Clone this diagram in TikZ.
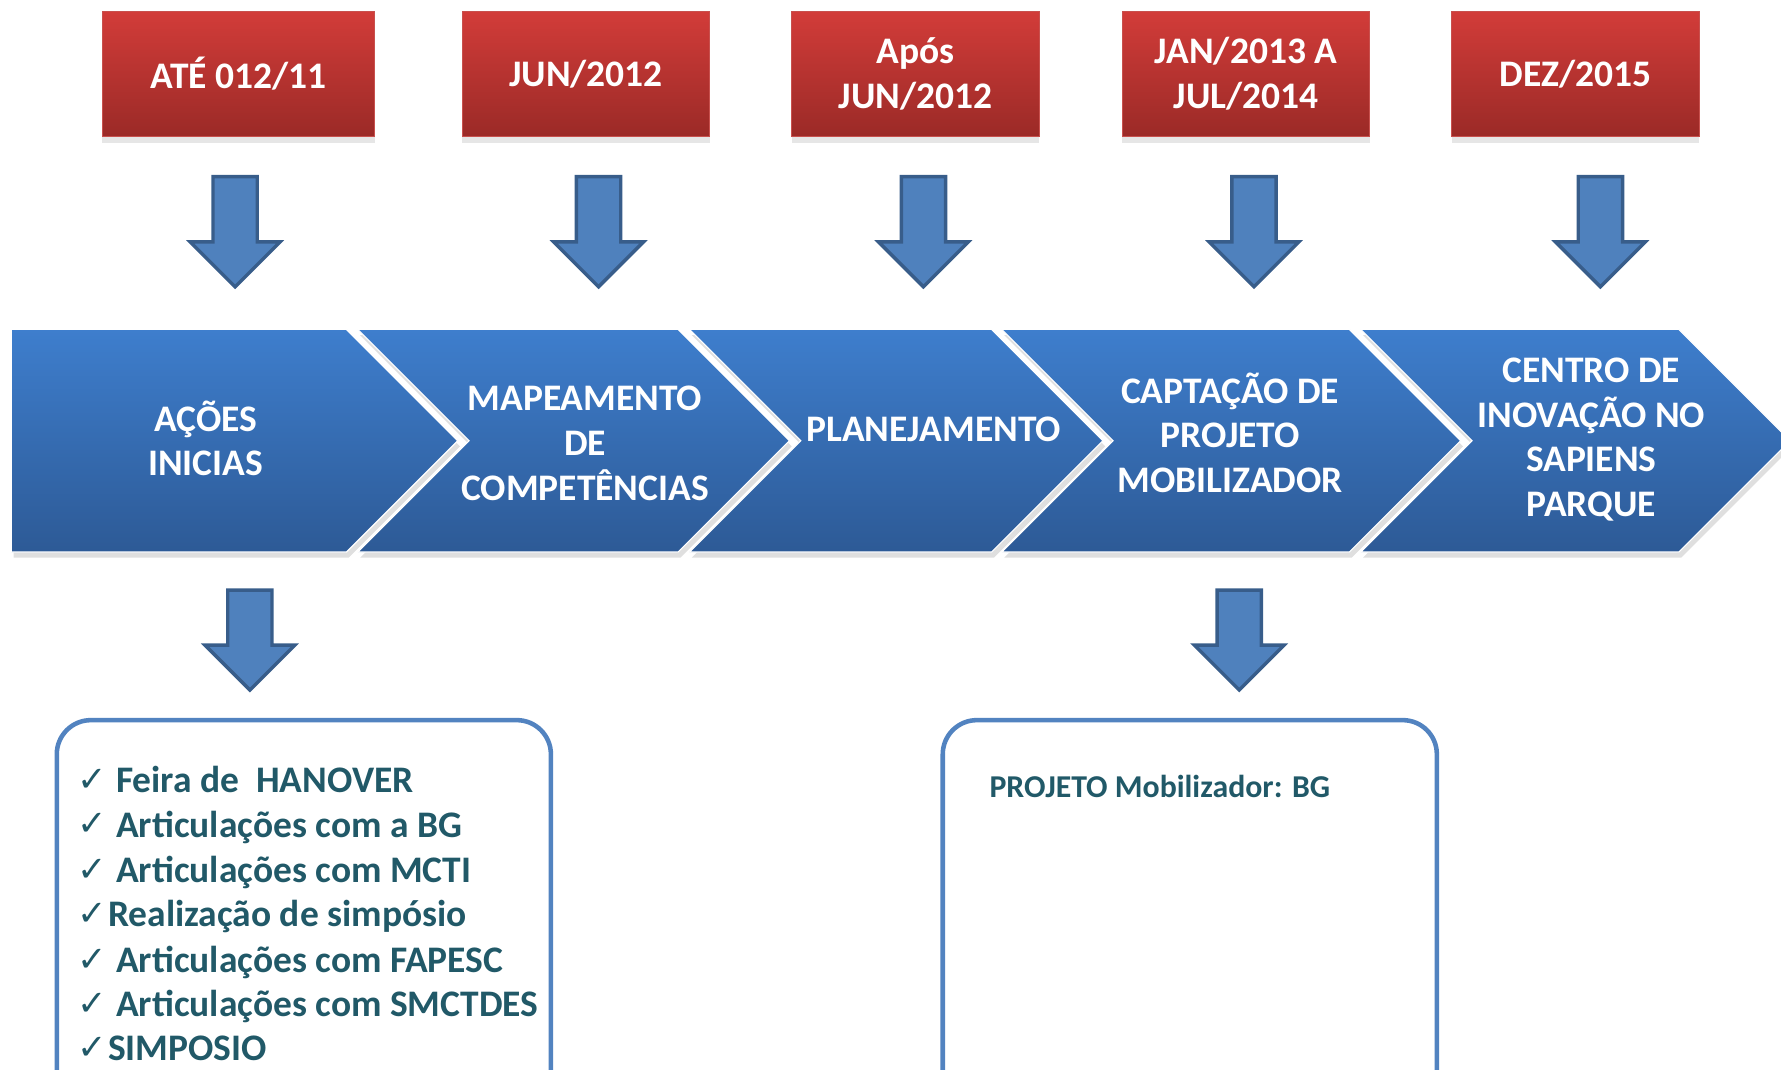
\documentclass[tikz,border=0pt]{standalone}
\usepackage{fontspec}
\setmainfont{Carlito}
\newfontfamily\symfont{DejaVu Sans}
\usetikzlibrary{shapes.arrows,shadows}
\definecolor{datetop}{HTML}{D23C39}
\definecolor{datebot}{HTML}{9B2A27}
\definecolor{dateedge}{HTML}{C8504D}
\definecolor{chevtop}{HTML}{3E7ECD}
\definecolor{chevbot}{HTML}{2D5A96}
\definecolor{arrfill}{HTML}{4F81BD}
\definecolor{arrline}{HTML}{385D8A}
\definecolor{boxline}{HTML}{5283C0}
\definecolor{itemtext}{HTML}{215968}
\begin{document}
\begin{tikzpicture}[x=1pt,y=-1pt,
    datebox/.style={rectangle,minimum width=218pt,minimum height=110pt,
      top color=datetop,bottom color=datebot,draw=dateedge,line width=1pt,
      text=white,align=center,font=\bfseries\fontsize{33}{39.5}\selectfont,
      drop shadow={shadow xshift=0pt,shadow yshift=-6pt,opacity=0.2}},
    chev/.style={top color=chevtop,bottom color=chevbot,draw=white,line width=1pt,
      drop shadow={shadow xshift=2pt,shadow yshift=-5pt,opacity=0.25}},
    chevtext/.style={text=white,align=center,font=\bfseries\fontsize{33}{39.5}\selectfont},
    dnarrow/.style={single arrow,rotate=-90,anchor=tail,minimum height=97pt,inner sep=18pt,
      single arrow head extend=20pt,fill=arrfill,draw=arrline,line width=3pt},
    listbox/.style={rectangle,rounded corners=30pt,draw=boxline,line width=4pt,
      minimum width=435pt,minimum height=340pt},
    item/.style={text=itemtext,anchor=base west,inner sep=0pt,
      font=\bfseries\fontsize{33}{39}\selectfont},
    tick/.style={text=itemtext,anchor=base west,inner sep=0pt,
      font=\symfont\fontsize{31}{31}\selectfont}]
    \useasboundingbox (0,0) rectangle (1568,942);
    % dates
    \node[datebox,minimum width=240pt] (d1) at (210,65) {ATÉ 012/11};
    \node[datebox] (d2) at (516,65) {JUN/2012};
    \node[datebox] (d3) at (806,65) {Após\\JUN/2012};
    \node[datebox] (d4) at (1097,65) {JAN/2013 A\\JUL/2014};
    \node[datebox] (d5) at (1387,65) {DEZ/2015};
    % arrows
    \node[dnarrow] (a1) at (207,154) {};
    \node[dnarrow] (a2) at (527,154) {};
    \node[dnarrow] (a3) at (813,154) {};
    \node[dnarrow] (a4) at (1104,154) {};
    \node[dnarrow] (a5) at (1409,154) {};
    %%%%%
    \draw[chev] (10,290) -- (305,290) -- (403,388) -- (305,486) -- (10,486) -- cycle;
    \draw[chev] (315,290) -- (597,290) -- (695,388) -- (597,486) -- (315,486) -- (413,388) -- cycle;
    \draw[chev] (607,290) -- (873,290) -- (971,388) -- (873,486) -- (607,486) -- (705,388) -- cycle;
    \draw[chev] (882,290) -- (1188,290) -- (1286,388) -- (1188,486) -- (882,486) -- (980,388) -- cycle;
    \draw[chev] (1198,290) -- (1478,290) -- (1576,388) -- (1478,486) -- (1198,486) -- (1296,388) -- cycle;
    \node[chevtext] (s1) at (181,386) {AÇÕES\\INICIAS};
    \node[chevtext] (s2) at (515,390) {MAPEAMENTO\\DE\\COMPETÊNCIAS};
    \node[chevtext] (s3) at (822,378) {PLANEJAMENTO};
    \node[chevtext] (s4) at (1083,381) {CAPTAÇÃO DE\\PROJETO\\MOBILIZADOR};
    \node[chevtext] (s5) at (1401,387) {CENTRO DE\\INOVAÇÃO NO\\SAPIENS\\PARQUE};
    %%%%
    \node[dnarrow,minimum height=88pt] (a6) at (220,518) {};
    \node[dnarrow,minimum height=88pt] (a7) at (1091,518) {};
    \node[listbox] (b1) at (267.5,804) {};
    \node[listbox] (b2) at (1047.5,804) {};
    %%%%
    \node[tick] (c1) at (68,697) {✓};
    \node[tick] (c2) at (68,736) {✓};
    \node[tick] (c3) at (68,776) {✓};
    \node[tick] (c4) at (68,815) {✓};
    \node[tick] (c5) at (68,855) {✓};
    \node[tick] (c6) at (68,894) {✓};
    \node[tick] (c7) at (68,933) {✓};
    \node[item] (i1) at (102,698) {Feira de \ HANOVER};
    \node[item] (i2) at (102,737) {Articulações com a BG};
    \node[item] (i3) at (102,777) {Articulações com MCTI};
    \node[item] (i4) at (95,816) {Realização de simpósio};
    \node[item] (i5) at (102,856) {Articulações com FAPESC};
    \node[item] (i6) at (102,895) {Articulações com SMCTDES};
    \node[item] (i7) at (95,934) {SIMPOSIO};
    \node[item,font=\bfseries\fontsize{28}{32}\selectfont] (p1) at (871,702) {PROJETO Mobilizador: BG};
\end{tikzpicture}
\end{document}
